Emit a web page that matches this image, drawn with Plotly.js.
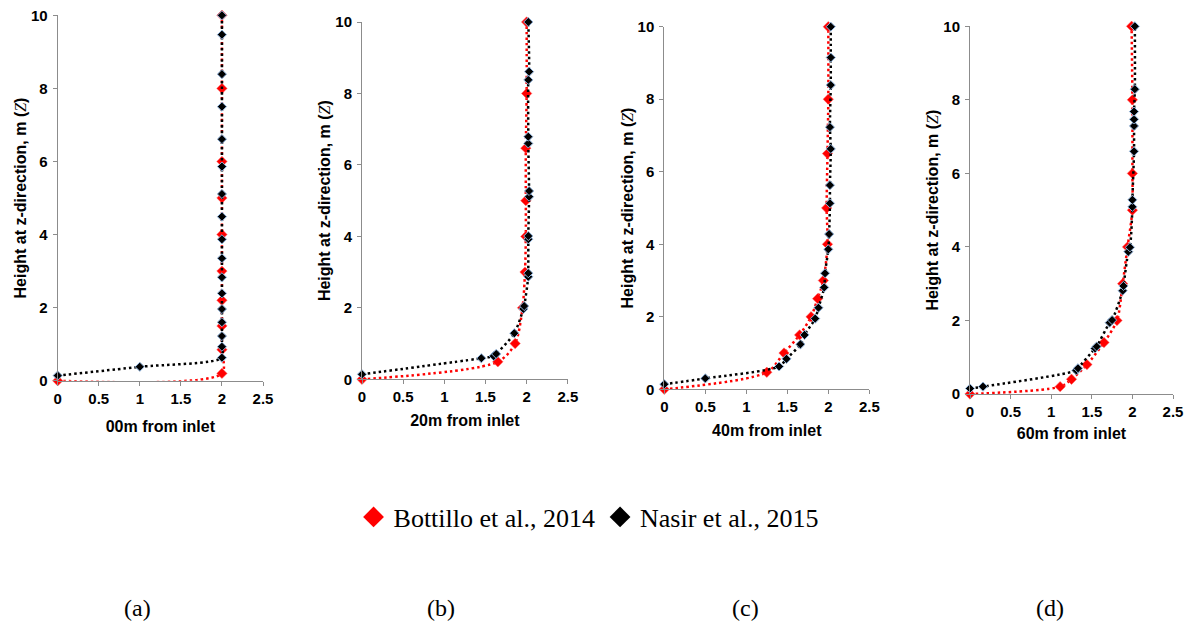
<!DOCTYPE html>
<html>
<head>
<meta charset="utf-8">
<script src="https://cdn.plot.ly/plotly-3.0.1.min.js"></script>
<style>html,body{margin:0;padding:0;background:#fff;}#chart{width:1189px;height:625px;}</style>
</head>
<body>
<div id="chart"></div>
<script>
// ---- data (velocity vs height) ----
const panelTitles = ["00m from inlet", "20m from inlet", "40m from inlet", "60m from inlet"];
const panelLabels = ["(a)", "(b)", "(c)", "(d)"];
const seriesNames = ["Bottillo et al., 2014", "Nasir et al., 2015"];
const xTicks = [0, 0.5, 1, 1.5, 2, 2.5];
const yTicks = [0, 2, 4, 6, 8, 10];

// (a) 00m
const redA_x = [0, 2, 2, 2, 2, 2, 2, 2, 2, 2, 2];
const redA_y = [0, 0.2, 0.85, 1.5, 2.2, 3, 4, 5, 6, 8, 10];
const blackA_x = [0, 1, 2, 2, 2, 2, 2, 2, 2, 2, 2, 2, 2, 2, 2, 2, 2, 2, 2];
const blackA_y = [0.14, 0.38, 0.63, 0.93, 1.22, 1.6, 1.96, 2.39, 2.83, 3.35, 3.87, 4.49, 5.11, 5.86, 6.61, 7.5, 8.39, 9.47, 10];

// (b) 20m
const redB_x = [0, 1.65, 1.86, 1.95, 1.98, 1.99, 1.99, 1.99, 2.0, 2.0];
const redB_y = [0, 0.49, 1.0, 2.0, 3.0, 4.0, 5.0, 6.47, 8.0, 10];
const blackB_x = [0, 1.45, 1.6, 1.63, 1.85, 1.96, 1.97, 2.02, 2.02, 2.02, 2.02, 2.03, 2.03, 2.02, 2.02, 2.02, 2.03, 2.02];
const blackB_y = [0.14, 0.59, 0.65, 0.71, 1.29, 1.97, 2.05, 2.87, 2.97, 3.92, 4.01, 5.11, 5.27, 6.6, 6.79, 8.38, 8.61, 10];

// (c) 40m
const redC_x = [0, 1.25, 1.46, 1.65, 1.79, 1.87, 1.94, 1.99, 1.98, 1.99, 2.0, 2.0];
const redC_y = [0, 0.47, 1.0, 1.5, 2.0, 2.5, 3.0, 4.0, 5.0, 6.5, 8.0, 10];
const blackC_x = [0, 0.5, 1.4, 1.49, 1.66, 1.71, 1.84, 1.88, 1.95, 1.96, 2.0, 2.01, 2.02, 2.02, 2.03, 2.02, 2.03, 2.03, 2.03];
const blackC_y = [0.14, 0.3, 0.63, 0.84, 1.24, 1.5, 1.95, 2.25, 2.81, 3.2, 3.86, 4.28, 5.13, 5.63, 6.63, 7.23, 8.39, 9.15, 10];

// (d) 60m
const redD_x = [0, 1.11, 1.25, 1.44, 1.65, 1.81, 1.88, 1.94, 2.0, 2.0, 2.0, 1.99];
const redD_y = [0, 0.2, 0.4, 0.8, 1.4, 2.0, 3.0, 4.0, 5.0, 6.0, 8.0, 10];
const blackD_x = [0, 0.16, 1.31, 1.33, 1.54, 1.56, 1.72, 1.75, 1.88, 1.89, 1.95, 1.97, 2.0, 2.0, 2.02, 2.02, 2.02, 2.02, 2.03, 2.03];
const blackD_y = [0.15, 0.2, 0.64, 0.7, 1.24, 1.29, 1.94, 2.01, 2.81, 2.94, 3.87, 3.99, 5.09, 5.28, 6.6, 7.29, 7.47, 7.68, 8.29, 10];

// ---- styling / layout ----
const panels = [
  {rx: redA_x, ry: redA_y, bx: blackA_x, by: blackA_y, xd: [57.7, 263], yd: [15.3, 380.7], xs: 15},
  {rx: redB_x, ry: redB_y, bx: blackB_x, by: blackB_y, xd: [362, 567.8], yd: [22, 379.3], xs: 10},
  {rx: redC_x, ry: redC_y, bx: blackC_x, by: blackC_y, xd: [664.3, 869.3], yd: [26.7, 389.3], xs: 10},
  {rx: redD_x, ry: redD_y, bx: blackD_x, by: blackD_y, xd: [970, 1173], yd: [26.3, 394], xs: 8}
];
const labelX = [137, 441, 745, 1050];
const W = 1189, H = 625;
const RED = "#ff0000", BLACK = "#000000";
const dotted = "2.5px,3px";

const traces = [];
const layout = {
  width: W, height: H,
  margin: {l: 0, r: 0, t: 0, b: 0},
  paper_bgcolor: "#ffffff", plot_bgcolor: "#ffffff",
  showlegend: true,
  legend: {orientation: "h", x: 0.495, xanchor: "center", y: (H - 517) / H, yanchor: "middle",
           font: {family: "Liberation Serif, Times New Roman, serif", size: 26, color: "#000"},
           bgcolor: "rgba(0,0,0,0)", itemclick: false},
  annotations: []
};

const tickFont = {family: "Liberation Sans, Arial, sans-serif", size: 15, color: "#000", weight: "bold"};
const titleFont = {family: "Liberation Sans, Arial, sans-serif", size: 16, color: "#000", weight: "bold"};

panels.forEach((p, i) => {
  const n = i === 0 ? "" : String(i + 1);
  const xa = "x" + n, ya = "y" + n;
  traces.push({
    x: p.rx, y: p.ry, xaxis: xa, yaxis: ya, type: "scatter", mode: "lines+markers",
    name: seriesNames[0], showlegend: false, cliponaxis: false, hoverinfo: "x+y",
    line: {color: RED, width: 2.5, dash: dotted, shape: "spline", smoothing: 0.8},
    marker: {symbol: "diamond", size: 8, color: RED, line: {color: "#ff6060", width: 0.5}}
  });
  traces.push({
    x: p.bx, y: p.by, xaxis: xa, yaxis: ya, type: "scatter", mode: "lines+markers",
    name: seriesNames[1], showlegend: false, cliponaxis: false, hoverinfo: "x+y",
    line: {color: BLACK, width: 2.5, dash: dotted, shape: "spline", smoothing: 0.8},
    marker: {symbol: "diamond", size: 7, color: BLACK, line: {color: "#8fb3dc", width: 1}}
  });
  layout["xaxis" + n] = {
    domain: [p.xd[0] / W, p.xd[1] / W], anchor: ya, range: [0, 2.5],
    tickvals: xTicks, ticktext: xTicks.map(String),
    showgrid: false, zeroline: false, showline: true, linecolor: "#8c8c8c", linewidth: 1,
    ticks: "outside", ticklen: 4, tickcolor: "#8c8c8c", tickfont: tickFont,
    title: {text: panelTitles[i], font: titleFont, standoff: p.xs}, fixedrange: true
  };
  layout["yaxis" + n] = {
    domain: [(H - p.yd[1]) / H, (H - p.yd[0]) / H], anchor: xa, range: [0, 10],
    tickvals: yTicks, ticktext: yTicks.map(String),
    showgrid: false, zeroline: false, showline: true, linecolor: "#8c8c8c", linewidth: 1,
    ticks: "outside", ticklen: 4, tickcolor: "#8c8c8c", tickfont: tickFont, ticklabelstandoff: 2,
    title: {text: "Height at z-direction, m (<span style=\"font-family:'Liberation Serif';font-weight:normal\"><i>Z</i></span>)",
            font: titleFont, standoff: 0}, fixedrange: true
  };
  layout.annotations.push({
    text: panelLabels[i], xref: "paper", yref: "paper", x: labelX[i] / W, y: (H - 608) / H,
    xanchor: "center", yanchor: "middle", showarrow: false,
    font: {family: "Liberation Serif, Times New Roman, serif", size: 24, color: "#000"}
  });
});

// legend-only entries (markers only, as in the reference legend)
traces.push({x: [null], y: [null], type: "scatter", mode: "markers", name: seriesNames[0],
  marker: {symbol: "diamond", size: 16, color: RED}, hoverinfo: "skip"});
traces.push({x: [null], y: [null], type: "scatter", mode: "markers", name: seriesNames[1],
  marker: {symbol: "diamond", size: 16, color: BLACK}, hoverinfo: "skip"});

Plotly.newPlot("chart", traces, layout, {displayModeBar: false, staticPlot: true});
</script>
</body>
</html>
